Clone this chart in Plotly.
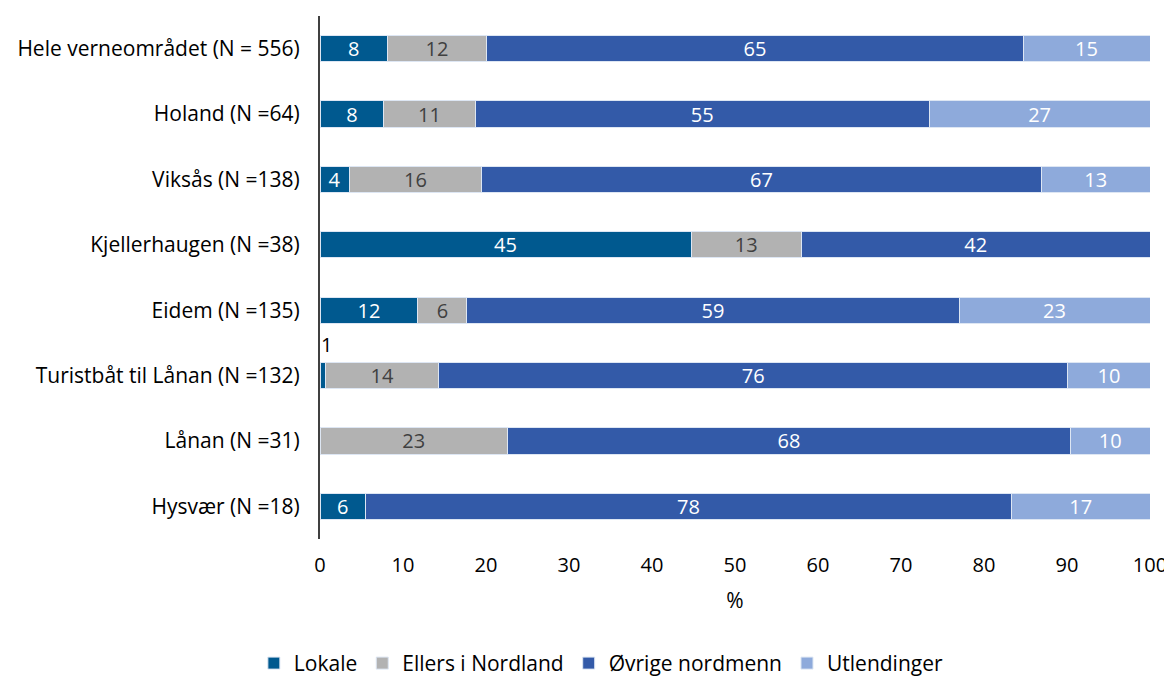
import plotly.graph_objects as go

categories = ["Hele verneområdet (N = 556)", "Holand (N =64)", "Viksås (N =138)",
              "Kjellerhaugen (N =38)", "Eidem (N =135)", "Turistbåt til Lånan (N =132)",
              "Lånan (N =31)", "Hysvær (N =18)"]
lokale = [8.1, 7.7, 3.5, 44.7, 11.8, 0.7, 0.0, 5.5]
ellers = [12.0, 11.0, 16.0, 13.3, 5.9, 13.6, 22.6, 0.0]
ovrige = [64.6, 54.7, 67.4, 42.0, 59.3, 75.8, 67.8, 77.8]
utlend = [15.3, 26.6, 13.1, 0.0, 23.0, 9.9, 9.6, 16.7]
series_names = ["Lokale", "Ellers i Nordland", "Øvrige nordmenn", "Utlendinger"]
x_ticks = [0, 10, 20, 30, 40, 50, 60, 70, 80, 90, 100]

colors = ["#00598f", "#b2b2b2", "#335aa8", "#8eaadb"]
textcolors = ["white", "#404040", "white", "white"]
FONT = "Open Sans"

def labels(vals, hide_small=False):
    out = []
    for v in vals:
        if v <= 0 or (hide_small and v < 1):
            out.append("")
        else:
            out.append(str(int(round(v))))
    return out

fig = go.Figure()
for name, vals, c, tc in zip(series_names, [lokale, ellers, ovrige, utlend], colors, textcolors):
    fig.add_trace(go.Bar(
        y=categories, x=vals, name=name, orientation="h",
        marker=dict(color=c, line=dict(color="#dde6f3", width=1)),
        text=labels(vals, hide_small=True), textposition="inside",
        insidetextanchor="middle", textangle=0, constraintext="none",
        textfont=dict(color=tc, size=20, family=FONT),
        width=0.4, hoverinfo="skip",
    ))

# small value label shown above the bar
for cat, v in zip(categories, lokale):
    if 0 < v < 1:
        fig.add_annotation(x=v / 2, y=cat, text=str(int(round(v))), showarrow=False,
                           yshift=31, xanchor="left", xshift=-4,
                           font=dict(size=20, color="black", family=FONT))

fig.update_layout(
    barmode="stack",
    width=1164, height=671,
    margin=dict(l=312, r=22, t=8, b=140, autoexpand=False),
    paper_bgcolor="white", plot_bgcolor="white",
    font=dict(family=FONT, size=20, color="black"),
    uniformtext=dict(mode="show", minsize=20),
    legend=dict(orientation="h", x=0.339, xanchor="center", y=-0.238, yanchor="middle",
                font=dict(size=21, family=FONT), traceorder="normal",
                itemwidth=30, tracegroupgap=0),
    xaxis=dict(range=[0, 100], tickvals=x_ticks, showgrid=False, zeroline=False,
               showline=False, ticks="", title=dict(text="%", standoff=16, font=dict(size=21)),
               tickfont=dict(size=20), ticklabelstandoff=12, automargin=False),
    yaxis=dict(categoryorder="array", categoryarray=categories, autorange="reversed",
               showline=True, linecolor="#404040", linewidth=2, ticks="",
               showgrid=False, tickfont=dict(size=21), ticklabelstandoff=14,
               automargin=False),
)

fig.write_html("out.html")
